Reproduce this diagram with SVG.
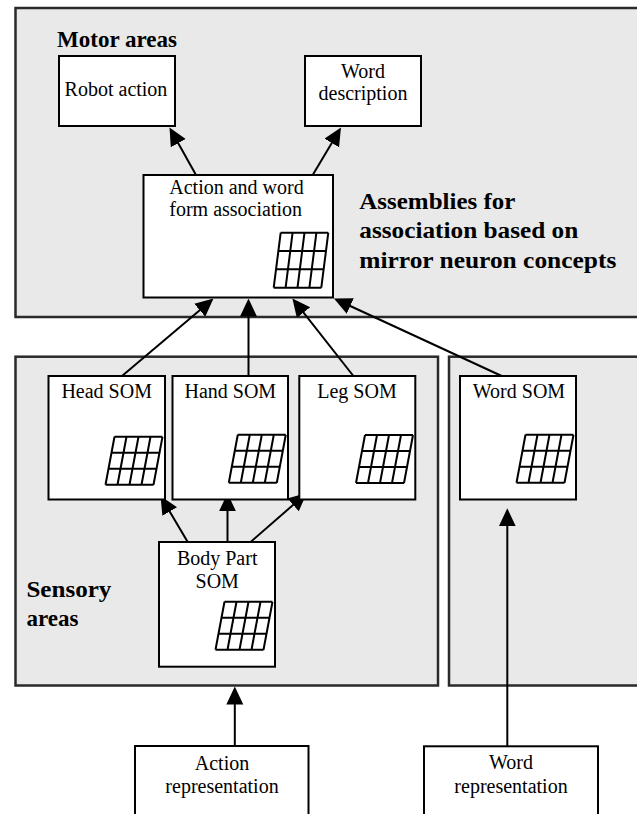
<svg xmlns="http://www.w3.org/2000/svg" xmlns:xlink="http://www.w3.org/1999/xlink" width="637" height="814" viewBox="0 0 637 814">
  <style>
    .panel { fill: #e9e9e9; stroke: #2a2a2a; stroke-width: 2.5; }
    .box { fill: #ffffff; stroke: #000000; stroke-width: 2; }
    .t { font-family: "Liberation Serif", "Times New Roman", serif; font-size: 20px; fill: #000; }
    .tc { text-anchor: middle; }
    .b { font-family: "Liberation Serif", "Times New Roman", serif; font-weight: bold; font-size: 23px; fill: #000; }
    .grid { fill: none; stroke: #000; stroke-width: 2; }
    .conn line { stroke: #000; stroke-width: 2; marker-end: url(#ah); }
  </style>
  <defs>
    <marker id="ah" markerUnits="userSpaceOnUse" markerWidth="18" markerHeight="18" refX="12" refY="8.5" orient="auto">
      <path d="M0,0 L18,8.5 L0,17 z" fill="#000"/>
    </marker>
    <path id="grid" class="grid" d="M0,0 H48 M-3,16 H45 M-6,32 H42 M-9,48 H39 M0,0 L-9,48 M12,0 L3,48 M24,0 L15,48 M36,0 L27,48 M48,0 L39,48"/>
  </defs>

  <!-- Background panels -->
  <g id="motor-panel">
    <rect class="panel" x="15.5" y="8" width="640" height="309"/>
    <text class="b" x="57" y="46.5" textLength="120" lengthAdjust="spacingAndGlyphs">Motor areas</text>
    <text class="b" font-size="24" x="359.3" y="209.3" textLength="156" lengthAdjust="spacingAndGlyphs">Assemblies for</text>
    <text class="b" font-size="24" x="359.3" y="238.3" textLength="219" lengthAdjust="spacingAndGlyphs">association based on</text>
    <text class="b" font-size="24" x="359.3" y="267.7" textLength="257" lengthAdjust="spacingAndGlyphs">mirror neuron concepts</text>
  </g>
  <g id="sensory-panel">
    <rect class="panel" x="15.5" y="356.7" width="422.5" height="328.8"/>
    <text class="b" x="26.4" y="596.7" textLength="85" lengthAdjust="spacingAndGlyphs">Sensory</text>
    <text class="b" x="26.4" y="626">areas</text>
  </g>
  <g id="word-panel">
    <rect class="panel" x="449" y="356.7" width="200" height="328.8"/>
  </g>

  <!-- Connectors -->
  <g id="connectors" class="conn">
    <line x1="196" y1="175" x2="172.4" y2="132.7"/>
    <line x1="312.7" y1="175" x2="337.9" y2="132.7"/>
    <line x1="122" y1="376" x2="208.9" y2="302.4"/>
    <line x1="248.5" y1="376" x2="248.5" y2="304.5"/>
    <line x1="353.4" y1="376" x2="296.1" y2="303.2"/>
    <line x1="501.7" y1="376" x2="339.4" y2="301"/>
    <line x1="187.7" y1="542" x2="163.6" y2="501.2"/>
    <line x1="227.5" y1="542" x2="227.5" y2="499.3"/>
    <line x1="250.6" y1="542" x2="302.2" y2="497"/>
    <line x1="234.8" y1="746" x2="234.8" y2="692.5"/>
    <line x1="507.3" y1="746.3" x2="507.3" y2="514.3"/>
  </g>

  <!-- Nodes -->
  <g id="robot-action">
    <rect class="box" x="59" y="56" width="116" height="70"/>
    <text class="t tc" x="116" y="95.5">Robot action</text>
  </g>
  <g id="word-description">
    <rect class="box" x="305" y="56" width="116" height="70"/>
    <text class="t tc" x="363" y="77.5">Word</text>
    <text class="t tc" x="363" y="99.5">description</text>
  </g>
  <g id="action-word-association">
    <rect class="box" x="143.5" y="175" width="189.5" height="122.5"/>
    <text class="t" font-size="19" x="169.3" y="194.3">Action and word</text>
    <text class="t" font-size="19" x="169.3" y="216">form association</text>
    <path class="grid" d="M280.7,232.7 H328.3 M278.4,251 H326 M276,269.3 H323.6 M273.7,287.7 H321.3 M280.7,232.7 L273.7,287.7 M292.6,232.7 L285.6,287.7 M304.5,232.7 L297.5,287.7 M316.4,232.7 L309.4,287.7 M328.3,232.7 L321.3,287.7"/>
  </g>
  <g id="head-som">
    <rect class="box" x="48.5" y="376" width="116.5" height="123.5"/>
    <text class="t tc" x="106.7" y="398.3">Head SOM</text>
    <use xlink:href="#grid" href="#grid" x="114.5" y="436.7"/>
  </g>
  <g id="hand-som">
    <rect class="box" x="172.5" y="376" width="115.5" height="123.5"/>
    <text class="t tc" x="230.3" y="398.3">Hand SOM</text>
    <use xlink:href="#grid" href="#grid" x="237.8" y="434.7"/>
  </g>
  <g id="leg-som">
    <rect class="box" x="299.3" y="376" width="116" height="123.5"/>
    <text class="t tc" x="357" y="398.3">Leg SOM</text>
    <use xlink:href="#grid" href="#grid" x="365" y="435"/>
  </g>
  <g id="word-som">
    <rect class="box" x="460" y="376" width="116" height="123.5"/>
    <text class="t tc" x="519" y="398.3">Word SOM</text>
    <use xlink:href="#grid" href="#grid" x="525.5" y="434.7"/>
  </g>
  <g id="body-part-som">
    <rect class="box" x="159" y="542" width="116" height="124.7"/>
    <text class="t tc" x="217.2" y="565">Body Part</text>
    <text class="t tc" x="217.2" y="588.3">SOM</text>
    <use xlink:href="#grid" href="#grid" x="224.5" y="601.7"/>
  </g>
  <g id="action-representation">
    <rect class="box" x="135" y="746" width="173.5" height="100"/>
    <text class="t tc" x="222" y="770">Action</text>
    <text class="t tc" x="222" y="792.5">representation</text>
  </g>
  <g id="word-representation">
    <rect class="box" x="424" y="746.3" width="174" height="100"/>
    <text class="t tc" x="511" y="769.3">Word</text>
    <text class="t tc" x="511" y="792.7">representation</text>
  </g>
</svg>
